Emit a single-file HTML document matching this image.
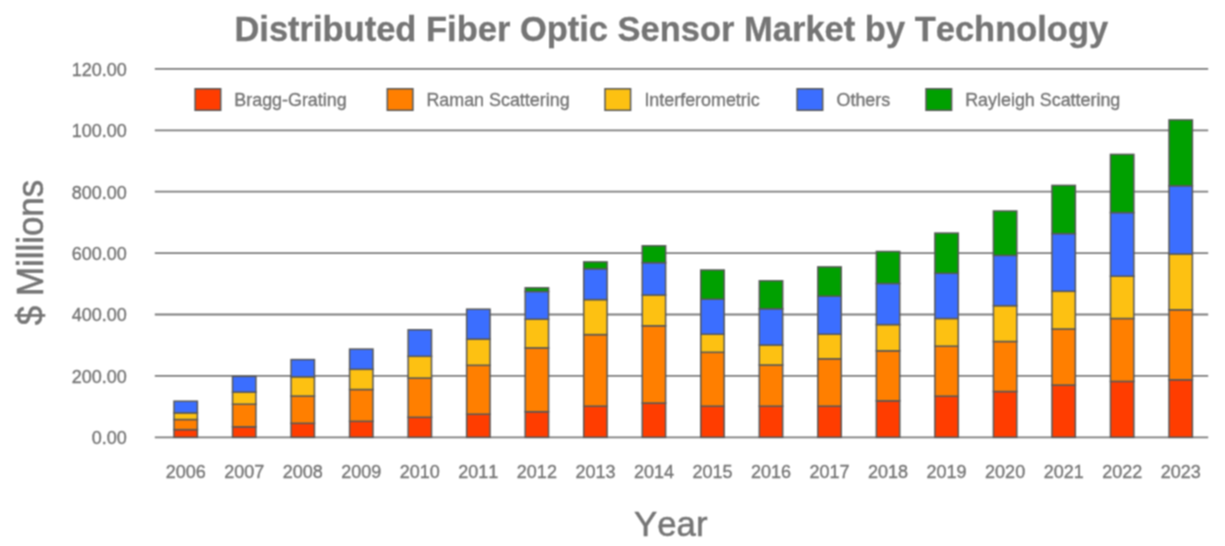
<!DOCTYPE html>
<html lang="en">
<head>
<meta charset="utf-8">
<title>Distributed Fiber Optic Sensor Market by Technology</title>
<style>
html,body{margin:0;padding:0;background:#fff;}
body{width:1225px;height:546px;overflow:hidden;font-family:"Liberation Sans", Arial, Helvetica, sans-serif;}
svg{display:block;position:absolute;left:0;top:0;}
text{font-family:"Liberation Sans", Arial, Helvetica, sans-serif;font-kerning:none;font-variant-ligatures:none;}
.tk,.lg{stroke:#757575;stroke-width:0.35px;}
.tk{font-size:18px;fill:#757575;}
.lg{font-size:17.9px;fill:#757575;}
.g{stroke:#7c7c7c;stroke-width:1.8;}
.b rect,.sw{stroke:#585858;stroke-width:1.5;}
</style>
</head>
<body>
<svg width="1225" height="546" viewBox="0 0 1225 546" role="img" aria-label="Distributed Fiber Optic Sensor Market by Technology">
<defs><filter id="soft" filterUnits="userSpaceOnUse" x="0" y="0" width="1225" height="546" color-interpolation-filters="sRGB"><feConvolveMatrix order="3" kernelMatrix="1 2 1 2 4 2 1 2 1" divisor="16" edgeMode="duplicate" preserveAlpha="false"/></filter></defs>
<g filter="url(#soft)">
<rect x="-5" y="-5" width="1235" height="556" fill="#ffffff"/>
<text transform="translate(234.4 41) scale(1 1.035)" font-size="34.5" font-weight="bold" fill="#757575" stroke="#757575" stroke-width="0.3">Distributed Fiber Optic Sensor Market by Technology</text>
<g class="grid">
<line class="g" x1="154.8" x2="1208.2" y1="68.9" y2="68.9"/>
<line class="g" x1="154.8" x2="1208.2" y1="130.3" y2="130.3"/>
<line class="g" x1="154.8" x2="1208.2" y1="191.7" y2="191.7"/>
<line class="g" x1="154.8" x2="1208.2" y1="253.1" y2="253.1"/>
<line class="g" x1="154.8" x2="1208.2" y1="314.5" y2="314.5"/>
<line class="g" x1="154.8" x2="1208.2" y1="375.9" y2="375.9"/>
<line class="g" x1="154.8" x2="1208.2" y1="437.3" y2="437.3"/>
</g>
<g class="ylabels" text-anchor="end">
<text class="tk" x="126.9" y="75.8">120.00</text>
<text class="tk" x="126.9" y="137.2">100.00</text>
<text class="tk" x="126.9" y="198.6">800.00</text>
<text class="tk" x="126.9" y="260">600.00</text>
<text class="tk" x="126.9" y="321.4">400.00</text>
<text class="tk" x="126.9" y="382.8">200.00</text>
<text class="tk" x="126.9" y="444.2">0.00</text>
</g>
<g class="legend">
<rect class="sw" x="195.1" y="88.8" width="25.6" height="21.5" fill="#FF3D00"/>
<text class="lg" x="234.3" y="106">Bragg-Grating</text>
<rect class="sw" x="387.3" y="88.8" width="25.6" height="21.5" fill="#FF7F00"/>
<text class="lg" x="426.4" y="106">Raman Scattering</text>
<rect class="sw" x="605" y="88.8" width="25.6" height="21.5" fill="#FDC112"/>
<text class="lg" x="644.4" y="106">Interferometric</text>
<rect class="sw" x="797.1" y="88.8" width="25.6" height="21.5" fill="#3B6EFF"/>
<text class="lg" x="836.5" y="106">Others</text>
<rect class="sw" x="926" y="88.8" width="25.6" height="21.5" fill="#00A000"/>
<text class="lg" x="965.2" y="106">Rayleigh Scattering</text>
</g>
<g class="b">
<rect x="174" y="429.6" width="23.4" height="7.7" fill="#FF3D00"/>
<rect x="174" y="419.5" width="23.4" height="10.1" fill="#FF7F00"/>
<rect x="174" y="412.9" width="23.4" height="6.6" fill="#FDC112"/>
<rect x="174" y="401.2" width="23.4" height="11.7" fill="#3B6EFF"/>
<rect x="232.53" y="426.8" width="23.4" height="10.5" fill="#FF3D00"/>
<rect x="232.53" y="404.2" width="23.4" height="22.6" fill="#FF7F00"/>
<rect x="232.53" y="392.1" width="23.4" height="12.1" fill="#FDC112"/>
<rect x="232.53" y="376.4" width="23.4" height="15.7" fill="#3B6EFF"/>
<rect x="291.06" y="423.3" width="23.4" height="14" fill="#FF3D00"/>
<rect x="291.06" y="396.1" width="23.4" height="27.2" fill="#FF7F00"/>
<rect x="291.06" y="376.8" width="23.4" height="19.3" fill="#FDC112"/>
<rect x="291.06" y="359.6" width="23.4" height="17.2" fill="#3B6EFF"/>
<rect x="349.59" y="421.3" width="23.4" height="16" fill="#FF3D00"/>
<rect x="349.59" y="389.5" width="23.4" height="31.8" fill="#FF7F00"/>
<rect x="349.59" y="369.3" width="23.4" height="20.2" fill="#FDC112"/>
<rect x="349.59" y="349.1" width="23.4" height="20.2" fill="#3B6EFF"/>
<rect x="408.12" y="417.3" width="23.4" height="20" fill="#FF3D00"/>
<rect x="408.12" y="378.1" width="23.4" height="39.2" fill="#FF7F00"/>
<rect x="408.12" y="356.3" width="23.4" height="21.8" fill="#FDC112"/>
<rect x="408.12" y="329.8" width="23.4" height="26.5" fill="#3B6EFF"/>
<rect x="466.65" y="414.2" width="23.4" height="23.1" fill="#FF3D00"/>
<rect x="466.65" y="365.3" width="23.4" height="48.9" fill="#FF7F00"/>
<rect x="466.65" y="339.1" width="23.4" height="26.2" fill="#FDC112"/>
<rect x="466.65" y="309.2" width="23.4" height="29.9" fill="#3B6EFF"/>
<rect x="525.18" y="411.7" width="23.4" height="25.6" fill="#FF3D00"/>
<rect x="525.18" y="347.9" width="23.4" height="63.8" fill="#FF7F00"/>
<rect x="525.18" y="319.2" width="23.4" height="28.7" fill="#FDC112"/>
<rect x="525.18" y="291.5" width="23.4" height="27.7" fill="#3B6EFF"/>
<rect x="525.18" y="287.8" width="23.4" height="3.7" fill="#00A000"/>
<rect x="583.71" y="406.2" width="23.4" height="31.1" fill="#FF3D00"/>
<rect x="583.71" y="334.6" width="23.4" height="71.6" fill="#FF7F00"/>
<rect x="583.71" y="299.6" width="23.4" height="35" fill="#FDC112"/>
<rect x="583.71" y="268.8" width="23.4" height="30.8" fill="#3B6EFF"/>
<rect x="583.71" y="261.9" width="23.4" height="6.9" fill="#00A000"/>
<rect x="642.24" y="403.1" width="23.4" height="34.2" fill="#FF3D00"/>
<rect x="642.24" y="325.8" width="23.4" height="77.3" fill="#FF7F00"/>
<rect x="642.24" y="295" width="23.4" height="30.8" fill="#FDC112"/>
<rect x="642.24" y="262.7" width="23.4" height="32.3" fill="#3B6EFF"/>
<rect x="642.24" y="245.8" width="23.4" height="16.9" fill="#00A000"/>
<rect x="700.77" y="406.2" width="23.4" height="31.1" fill="#FF3D00"/>
<rect x="700.77" y="352.3" width="23.4" height="53.9" fill="#FF7F00"/>
<rect x="700.77" y="334.2" width="23.4" height="18.1" fill="#FDC112"/>
<rect x="700.77" y="299.2" width="23.4" height="35" fill="#3B6EFF"/>
<rect x="700.77" y="270" width="23.4" height="29.2" fill="#00A000"/>
<rect x="759.3" y="406.2" width="23.4" height="31.1" fill="#FF3D00"/>
<rect x="759.3" y="365" width="23.4" height="41.2" fill="#FF7F00"/>
<rect x="759.3" y="345" width="23.4" height="20" fill="#FDC112"/>
<rect x="759.3" y="308.8" width="23.4" height="36.2" fill="#3B6EFF"/>
<rect x="759.3" y="280.8" width="23.4" height="28" fill="#00A000"/>
<rect x="817.83" y="406.2" width="23.4" height="31.1" fill="#FF3D00"/>
<rect x="817.83" y="358.8" width="23.4" height="47.4" fill="#FF7F00"/>
<rect x="817.83" y="334.2" width="23.4" height="24.6" fill="#FDC112"/>
<rect x="817.83" y="296.2" width="23.4" height="38" fill="#3B6EFF"/>
<rect x="817.83" y="266.9" width="23.4" height="29.3" fill="#00A000"/>
<rect x="876.36" y="400.8" width="23.4" height="36.5" fill="#FF3D00"/>
<rect x="876.36" y="350.8" width="23.4" height="50" fill="#FF7F00"/>
<rect x="876.36" y="324.6" width="23.4" height="26.2" fill="#FDC112"/>
<rect x="876.36" y="283.5" width="23.4" height="41.1" fill="#3B6EFF"/>
<rect x="876.36" y="251.5" width="23.4" height="32" fill="#00A000"/>
<rect x="934.89" y="396.2" width="23.4" height="41.1" fill="#FF3D00"/>
<rect x="934.89" y="346.2" width="23.4" height="50" fill="#FF7F00"/>
<rect x="934.89" y="318.5" width="23.4" height="27.7" fill="#FDC112"/>
<rect x="934.89" y="273.3" width="23.4" height="45.2" fill="#3B6EFF"/>
<rect x="934.89" y="233.1" width="23.4" height="40.2" fill="#00A000"/>
<rect x="993.42" y="391.5" width="23.4" height="45.8" fill="#FF3D00"/>
<rect x="993.42" y="341.5" width="23.4" height="50" fill="#FF7F00"/>
<rect x="993.42" y="305.7" width="23.4" height="35.8" fill="#FDC112"/>
<rect x="993.42" y="255.4" width="23.4" height="50.3" fill="#3B6EFF"/>
<rect x="993.42" y="211" width="23.4" height="44.4" fill="#00A000"/>
<rect x="1051.95" y="385.1" width="23.4" height="52.2" fill="#FF3D00"/>
<rect x="1051.95" y="329" width="23.4" height="56.1" fill="#FF7F00"/>
<rect x="1051.95" y="291.3" width="23.4" height="37.7" fill="#FDC112"/>
<rect x="1051.95" y="233.6" width="23.4" height="57.7" fill="#3B6EFF"/>
<rect x="1051.95" y="185.4" width="23.4" height="48.2" fill="#00A000"/>
<rect x="1110.48" y="381.4" width="23.4" height="55.9" fill="#FF3D00"/>
<rect x="1110.48" y="318.5" width="23.4" height="62.9" fill="#FF7F00"/>
<rect x="1110.48" y="276.2" width="23.4" height="42.3" fill="#FDC112"/>
<rect x="1110.48" y="212.6" width="23.4" height="63.6" fill="#3B6EFF"/>
<rect x="1110.48" y="154.4" width="23.4" height="58.2" fill="#00A000"/>
<rect x="1169.01" y="379.8" width="23.4" height="57.5" fill="#FF3D00"/>
<rect x="1169.01" y="309.8" width="23.4" height="70" fill="#FF7F00"/>
<rect x="1169.01" y="254" width="23.4" height="55.8" fill="#FDC112"/>
<rect x="1169.01" y="185.8" width="23.4" height="68.2" fill="#3B6EFF"/>
<rect x="1169.01" y="119.9" width="23.4" height="65.9" fill="#00A000"/>
</g>
<g class="xlabels" text-anchor="middle">
<text class="tk" x="185.7" y="478">2006</text>
<text class="tk" x="244.23" y="478">2007</text>
<text class="tk" x="302.76" y="478">2008</text>
<text class="tk" x="361.29" y="478">2009</text>
<text class="tk" x="419.82" y="478">2010</text>
<text class="tk" x="478.35" y="478">2011</text>
<text class="tk" x="536.88" y="478">2012</text>
<text class="tk" x="595.41" y="478">2013</text>
<text class="tk" x="653.94" y="478">2014</text>
<text class="tk" x="712.47" y="478">2015</text>
<text class="tk" x="771" y="478">2016</text>
<text class="tk" x="829.53" y="478">2017</text>
<text class="tk" x="888.06" y="478">2018</text>
<text class="tk" x="946.59" y="478">2019</text>
<text class="tk" x="1005.12" y="478">2020</text>
<text class="tk" x="1063.65" y="478">2021</text>
<text class="tk" x="1122.18" y="478">2022</text>
<text class="tk" x="1180.71" y="478">2023</text>
</g>
<text transform="translate(634 535.6) scale(1 1.035)" font-size="34.8" fill="#757575" stroke="#757575" stroke-width="0.5">Year</text>
<text transform="translate(43.2 325.2) rotate(-90) scale(1 1.035)" font-size="34.9" fill="#757575" stroke="#757575" stroke-width="0.5">$ Millions</text>
</g>
</svg>
</body>
</html>
